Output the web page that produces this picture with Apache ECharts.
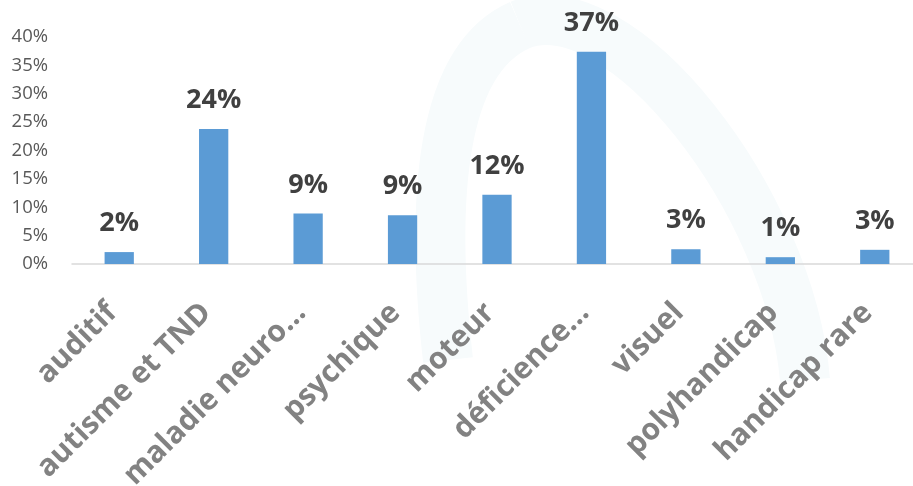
<!DOCTYPE html>
<html>
<head>
<meta charset="utf-8">
<script src="https://cdn.jsdelivr.net/npm/echarts@6/dist/echarts.min.js"></script>
<style>
html,body{margin:0;padding:0;background:#fff;overflow:hidden;width:913px;height:486px;}
#c{width:922px;height:486px;}
</style>
</head>
<body>
<div id="c"></div>
<script>
const categories = ["auditif","autisme et TND","maladie neuro…","psychique","moteur","déficience…","visuel","polyhandicap","handicap rare"];
const values = [2.1, 23.8, 8.9, 8.6, 12.2, 37.4, 2.6, 1.2, 2.5];
const yTicks = {min: 0, max: 40, interval: 5};

const chart = echarts.init(document.getElementById('c'));
chart.setOption({
  animation: false,
  graphic: [{
    type: 'bezierCurve', z: -10, silent: true,
    shape: {x1: 448, y1: 360, cpx1: 430, cpy1: 200, cpx2: 440, cpy2: 60, x2: 520, y2: 25},
    style: {fill: null, stroke: '#f7fbfc', lineWidth: 50}
  }, {
    type: 'bezierCurve', z: -10, silent: true,
    shape: {x1: 520, y1: 25, cpx1: 620, cpy1: -15, cpx2: 790, cpy2: 200, x2: 805, y2: 380},
    style: {fill: null, stroke: '#f7fbfc', lineWidth: 50}
  }],
  grid: {left: 72, top: 37, right: 0, bottom: 222, containLabel: false, outerBoundsMode: 'none'},
  xAxis: {
    type: 'category',
    data: categories,
    axisLine: {lineStyle: {color: '#d9d9d9', width: 1.5}},
    axisTick: {show: false},
    axisLabel: {
      rotate: 45, interval: 0, margin: 37, padding: [0, 10, 0, 0],
      color: '#828282', fontFamily: 'Open Sans', fontWeight: 'bold', fontSize: 30
    }
  },
  yAxis: {
    type: 'value',
    min: yTicks.min, max: yTicks.max, interval: yTicks.interval,
    axisLine: {show: false}, axisTick: {show: false},
    splitLine: {show: false},
    axisLabel: {
      margin: 24, padding: [6, 0, 0, 0], color: '#595959', fontFamily: 'Open Sans', fontSize: 18.5,
      formatter: v => v + '%'
    }
  },
  series: [{
    type: 'bar',
    data: values,
    barWidth: '31%',
    itemStyle: {color: '#5B9BD5'},
    label: {
      show: true, position: 'top', distance: 15,
      color: '#404040', fontFamily: 'Open Sans', fontWeight: 'bold', fontSize: 27,
      formatter: p => Math.round(p.value) + '%'
    }
  }]
});
</script>
</body>
</html>
